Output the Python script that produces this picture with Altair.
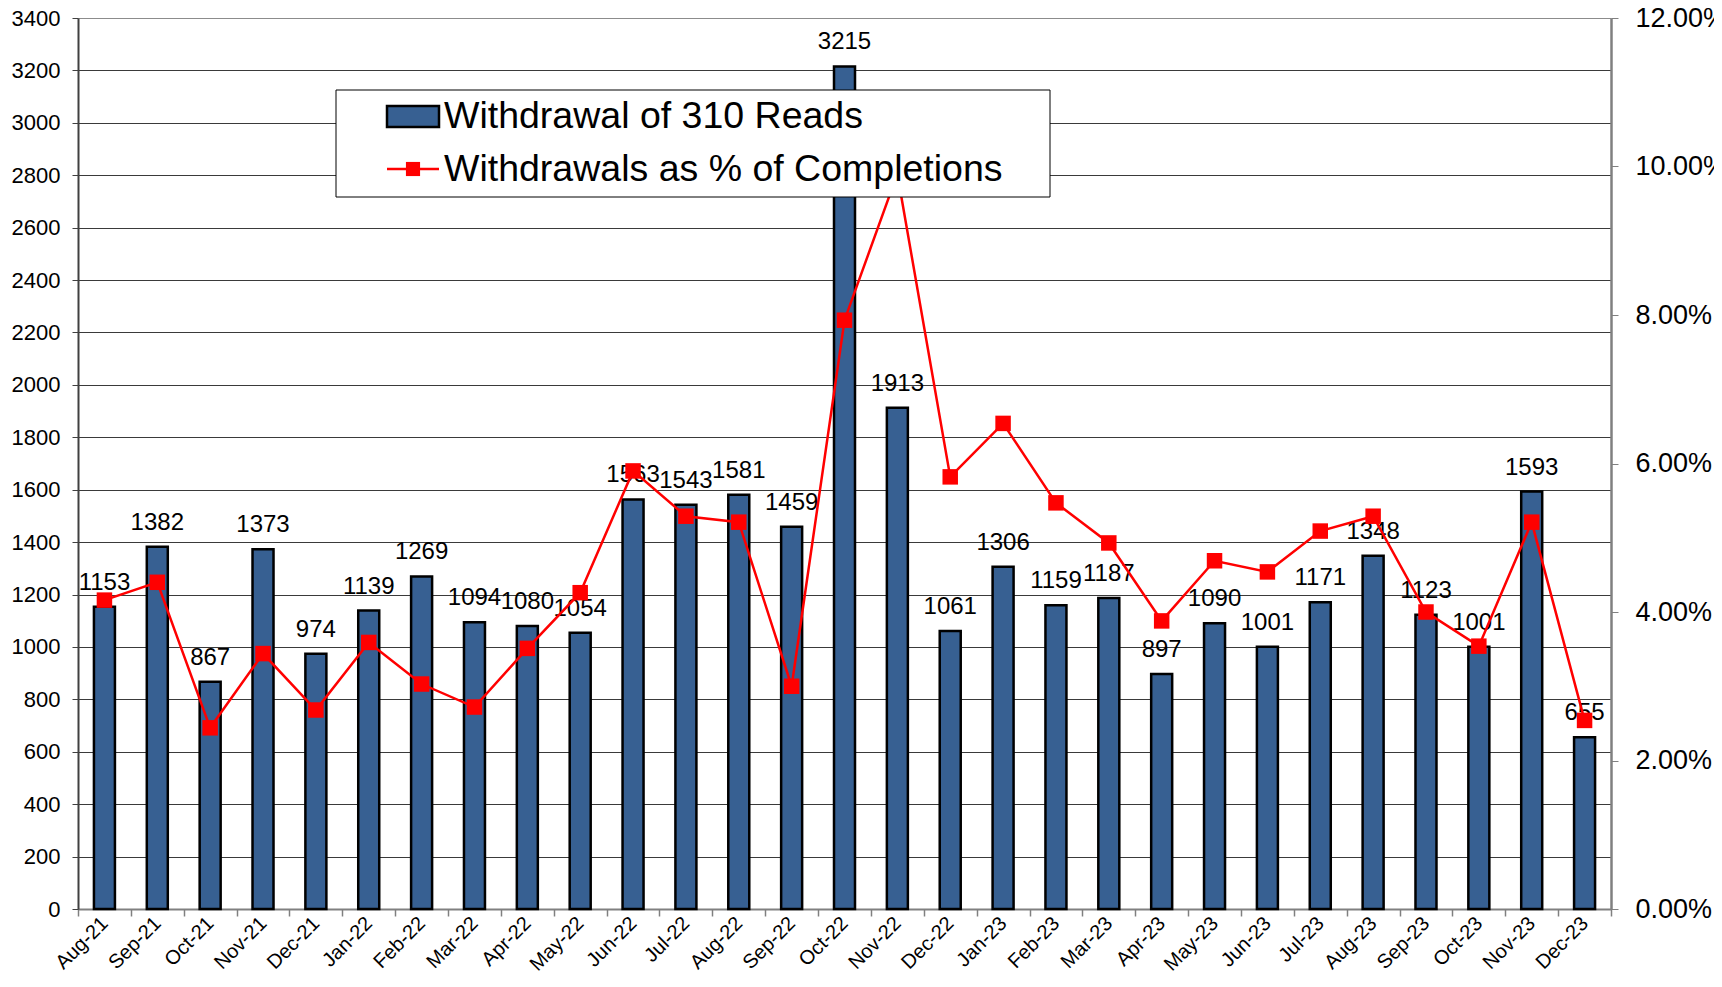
import altair as alt
import pandas as pd

months = ["Aug-21", "Sep-21", "Oct-21", "Nov-21", "Dec-21", "Jan-22", "Feb-22", "Mar-22",
          "Apr-22", "May-22", "Jun-22", "Jul-22", "Aug-22", "Sep-22", "Oct-22", "Nov-22",
          "Dec-22", "Jan-23", "Feb-23", "Mar-23", "Apr-23", "May-23", "Jun-23", "Jul-23",
          "Aug-23", "Sep-23", "Oct-23", "Nov-23", "Dec-23"]
withdrawals = [1153, 1382, 867, 1373, 974, 1139, 1269, 1094, 1080, 1054, 1563, 1543, 1581, 1459,
               3215, 1913, 1061, 1306, 1159, 1187, 897, 1090, 1001, 1171, 1348, 1123, 1001, 1593, 655]
pct_of_completions = [4.16, 4.40, 2.44, 3.44, 2.68, 3.59, 3.03, 2.72, 3.51, 4.26, 5.90, 5.29, 5.21, 3.00,
                      7.93, 9.90, 5.82, 6.54, 5.47, 4.93, 3.88, 4.69, 4.54, 5.09, 5.29, 4.00, 3.54, 5.21, 2.54]
legend_labels = ["Withdrawal of 310 Reads", "Withdrawals as % of Completions"]
left_ticks = list(range(0, 3401, 200))
right_ticks = [0, 2, 4, 6, 8, 10, 12]

FONT = "Liberation Sans"
BAR_COLOR = "#376092"

df = pd.DataFrame({"month": months, "withdrawals": withdrawals, "pct": pct_of_completions})

x_enc = alt.X(
    "month:N", sort=months,
    scale=alt.Scale(paddingInner=0, paddingOuter=0),
    axis=alt.Axis(title=None, labelAngle=-45, labelAlign="right", labelBaseline="middle",
                  labelFontSize=20, labelFont=FONT, labelColor="black", labelPadding=4,
                  tickBand="extent", tickSize=7, tickColor="#808080", tickWidth=1.5,
                  domainColor="#808080", domainWidth=2, grid=False),
)

y_left = alt.Y(
    "withdrawals:Q",
    scale=alt.Scale(domain=[0, 3400], nice=False, zero=True),
    axis=alt.Axis(title=None, values=left_ticks, format="d", labelFontSize=22, labelFont=FONT,
                  labelColor="black", labelPadding=12, tickSize=6, tickColor="#404040",
                  domainColor="#404040", domainWidth=2, grid=True, gridWidth=1.2,
                  gridColor={"condition": {"test": "datum.value >= 3400", "value": "#8c8c8c"},
                             "value": "#3a3a3a"}),
)

y_right = alt.Y(
    "pct:Q",
    scale=alt.Scale(domain=[0, 12], nice=False, zero=True),
    axis=alt.Axis(title=None, orient="right", values=right_ticks,
                  labelExpr="format(datum.value, '.2f') + '%'",
                  labelFontSize=27, labelFont=FONT, labelColor="black", labelPadding=17,
                  tickSize=7, tickColor="#808080", domainColor="#808080", domainWidth=2.5,
                  grid=False),
)

bars = alt.Chart(df).mark_bar(size=21, color=BAR_COLOR, stroke="black", strokeWidth=2.5).encode(
    x=x_enc, y=y_left)
bar_labels = alt.Chart(df).mark_text(baseline="alphabetic", dy=-17, fontSize=24, font=FONT,
                                     color="black").encode(
    x=x_enc, y=y_left, text="withdrawals:Q")
left = alt.layer(bars, bar_labels)

line = alt.Chart(df).mark_line(color="#FF0000", strokeWidth=2.5).encode(x=x_enc, y=y_right)
pts = alt.Chart(df).mark_point(shape="square", filled=True, size=240, color="#FF0000",
                               opacity=1).encode(x=x_enc, y=y_right)
right = alt.layer(line, pts)

main = alt.layer(left, right).resolve_scale(y="independent")

one = pd.DataFrame({"k": [0]})
leg_box = alt.Chart(one).mark_rect(fill="white", stroke="black", strokeWidth=1).encode(
    x=alt.value(258), x2=alt.value(972), y=alt.value(72), y2=alt.value(179))
leg_bar = alt.Chart(one).mark_rect(fill=BAR_COLOR, stroke="black", strokeWidth=2.5).encode(
    x=alt.value(309), x2=alt.value(361), y=alt.value(88), y2=alt.value(109))
leg_line = alt.Chart(one).mark_rule(color="#FF0000", strokeWidth=2.5).encode(
    x=alt.value(309), x2=alt.value(361), y=alt.value(151))
leg_pt = alt.Chart(one).mark_point(shape="square", filled=True, size=200, color="#FF0000",
                                   opacity=1).encode(x=alt.value(335), y=alt.value(151))
leg_t1 = alt.Chart(one).mark_text(align="left", baseline="middle", fontSize=37.5, font=FONT,
                                  color="black").encode(
    x=alt.value(366), y=alt.value(99), text=alt.value(legend_labels[0]))
leg_t2 = alt.Chart(one).mark_text(align="left", baseline="middle", fontSize=37.5, font=FONT,
                                  color="black").encode(
    x=alt.value(366), y=alt.value(152), text=alt.value(legend_labels[1]))

chart = alt.layer(main, leg_box, leg_bar, leg_line, leg_pt, leg_t1, leg_t2).properties(
    width=1533, height=891,
    autosize=alt.AutoSizeParams(type="none"),
    padding={"left": 70, "top": 10, "right": 103, "bottom": 67},
).configure_view(fill="#C0C0C0", stroke="transparent").configure(background="white")

chart.save("out.html", embed_options={"renderer": "svg", "actions": False})
